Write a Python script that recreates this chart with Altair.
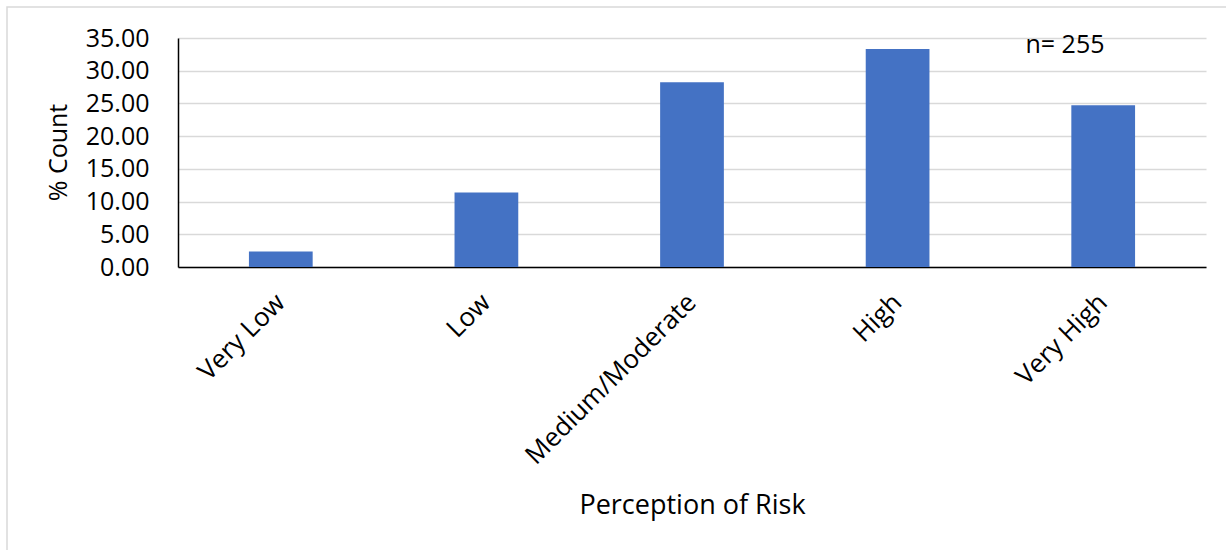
import altair as alt
import pandas as pd

# Perception of risk survey: share of respondents per category (%)
categories = ["Very Low", "Low", "Medium/Moderate", "High", "Very High"]
percent_count = [2.35, 11.37, 28.24, 33.33, 24.71]
y_ticks = [0, 5, 10, 15, 20, 25, 30, 35]
sample_note = "n= 255"

df = pd.DataFrame({"risk": categories, "pct": percent_count})

FONT = "Open Sans"
W, H = 1028, 229

# light frame around the whole chart area (outline only)
frame = alt.Chart(pd.DataFrame({"k": [0]})).mark_rect(
    fillOpacity=0, stroke="#d9d9d9", strokeWidth=1.5
).encode(
    x=alt.value(-171), x2=alt.value(1100), y=alt.value(-31), y2=alt.value(600)
)

bars = alt.Chart(df).mark_bar(color="#4472C4").encode(
    x=alt.X(
        "risk:N",
        sort=categories,
        scale=alt.Scale(paddingInner=0.69, paddingOuter=0.345),
        axis=alt.Axis(
            title="Perception of Risk",
            labelAngle=-45,
            labelAlign="right",
            labelBaseline="middle",
            labelPadding=31,
            labelLimit=400,
            ticks=False,
            tickSize=0,
            grid=False,
            domainColor="black",
            domainWidth=1.5,
            labelFont=FONT,
            labelFontSize=26,
            labelColor="black",
            titleFont=FONT,
            titleFontSize=27,
            titleFontWeight="normal",
            titleColor="black",
            titleX=514,
            titleY=238,
            titleAlign="center",
            titleBaseline="middle",
        ),
    ),
    y=alt.Y(
        "pct:Q",
        scale=alt.Scale(domain=[0, 35], nice=False),
        axis=alt.Axis(
            title="% Count",
            values=y_ticks,
            format=".2f",
            ticks=False,
            tickSize=0,
            labelPadding=29,
            domainColor="black",
            domainWidth=1.5,
            gridColor="#d9d9d9",
            gridWidth=1.5,
            labelFont=FONT,
            labelFontSize=25,
            labelColor="black",
            titleFont=FONT,
            titleFontSize=25,
            titleFontWeight="normal",
            titleColor="black",
            titleAngle=-90,
            titleX=-120,
            titleY=114,
            titleAlign="center",
            titleBaseline="middle",
        ),
    ),
)

note = alt.Chart(pd.DataFrame({"t": [sample_note]})).mark_text(
    font=FONT, fontSize=25, align="center", baseline="middle", color="black"
).encode(x=alt.value(887), y=alt.value(7), text="t:N")

chart = alt.layer(frame, bars, note).properties(
    width=W,
    height=H,
    autosize=alt.AutoSizeParams(type="none"),
    padding={"left": 178, "top": 38, "right": 20, "bottom": 283},
    background="white",
).configure_view(stroke=None)

chart.save("out.html", embed_options={"renderer": "svg", "actions": False})
